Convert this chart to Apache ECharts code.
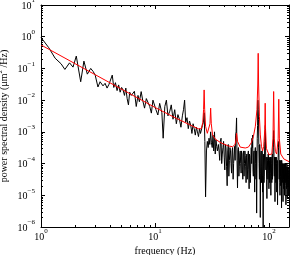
<!DOCTYPE html>
<html>
<head>
<meta charset="utf-8">
<script src="https://cdn.jsdelivr.net/npm/echarts@6/dist/echarts.min.js"></script>
<style>
html,body{margin:0;padding:0;background:#fff;}
#chart{width:299px;height:255px;}
</style>
</head>
<body>
<div id="chart"></div>
<script>
const freqA = [1.0,1.17,1.33,1.5,1.62,1.78,1.91,2.04,2.23,2.38,2.55,2.73,2.87,2.99,3.16,3.3];
const psdA  = [0.95,0.45,0.21,0.14,0.093,0.15,0.11,0.245,0.038,0.17,0.066,0.10,0.08,0.061,0.026,0.038];

const freqB = [3.5,3.65,3.8,3.95,4.1,4.22,4.35,4.5,4.65,4.8,4.95,5.1,5.25,5.4,5.55,5.7,5.85,6.0,6.2,6.4,6.6,6.85,7.1,7.3,7.57,7.8,8.1,8.4,8.7,9.0,9.3,9.6,9.9,10.2,10.6];
const psdB  = [0.0282,0.0339,0.024,0.0316,0.0282,0.0617,0.0251,0.0355,0.02,0.0302,0.0178,0.0251,0.0209,0.0141,0.024,0.0112,0.0071,0.0178,0.0141,0.0126,0.019,0.0063,0.0141,0.0089,0.0186,0.01,0.0056,0.0112,0.0117,0.0063,0.0039,0.01,0.0105,0.005,0.0034];

const freqC = [11.0,11.5,11.8,12.2,12.6,13.0,13.5,13.9,14.4,14.9,15.4,15.9,16.4,16.9,17.4,17.8,18.2,18.6,19.1,19.6,20.1,20.6,21.1,21.6,22.1,22.6,23.1,23.6,24.1,24.6,25.1,25.6,26.1,26.6,27.0,27.4,27.8,28.3,28.8,29.3,29.8,30.3,30.8,31.3,31.8,32.3,32.8,33.3,33.8,34.3,34.8,35.3];
const psdC  = [0.0079,0.004,0.00063,0.0063,0.01,0.0032,0.0045,0.0071,0.0025,0.005,0.0018,0.0035,0.0025,0.0014,0.0032,0.005,0.01,0.002,0.0028,0.00126,0.0022,0.0016,0.00089,0.0018,0.00126,0.00079,0.0014,0.001,0.00071,0.00126,0.00089,0.001,0.0016,0.002,0.004,0.0005,0.0000089,0.00025,0.0005,0.00032,0.00063,0.0004,0.001,0.00045,0.00032,0.00079,0.00025,0.001,0.0002,0.00056,0.00035,0.00025];

const freqD = [36,37,38,39,40,41,42,43,44,45,46,47,48,49,50,51,52,53,54,55,56,57,58,59,60,61,62,63,64,65,66,67,68,69,70,71,72,73,74,75,76,77,78,79,80,81,82,83,84,85,86,87,88,89,90,91,92,93,94,95,96,97,98,99,100,101,102,103,104,105,106,107,108,109,110,111,112,113,114,115,116,117,118,119,120,121,122,123,124,125,126,127,128,129,130,131,132,133,134,135,136,137,138,139,140,141,142,143,144,145,146,147,148,149,150];
const psdD  = [4.0e-4,1.26e-4,6.3e-4,2.0e-4,5.0e-4,6.3e-5,3.2e-4,2.0e-5,4.0e-4,1.26e-4,2.5e-4,5.0e-5,3.2e-4,1.0e-4,3.5e-4,7.9e-4,2.75e-3,1.7e-5,3.2e-4,7.9e-5,
               2.5e-4,5.0e-5,2.0e-4,3.2e-5,2.5e-4,1.0e-4,1.8e-4,2.5e-5,2.0e-4,6.3e-5,2.5e-4,1.6e-5,1.6e-4,5.0e-5,3.2e-4,6.3e-4,7.9e-4,4.0e-5,2.5e-4,1.26e-5,
               3.2e-4,3.2e-5,2.75e-6,6.3e-4,1.0e-2,2.5e-3,1.0e-4,4.0e-4,2.0e-6,2.0e-4,2.5e-5,2.5e-4,1.26e-5,1.0e-6,2.0e-4,4.0e-5,5.0e-4,1.6e-3,6.3e-5,1.6e-4,
               7.9e-6,1.26e-4,3.2e-5,1.6e-4,1.6e-5,1.26e-4,4.0e-5,1.6e-4,1.0e-5,1.0e-4,2.5e-5,2.0e-4,5.0e-5,4.0e-4,1.1e-3,7.9e-5,1.6e-4,6.3e-6,1.0e-4,2.5e-5,
               1.6e-4,1.26e-5,1.0e-4,5.0e-6,1.26e-4,2.5e-4,5.0e-4,3.2e-5,1.26e-4,1.0e-5,1.0e-4,2.0e-5,1.26e-4,4.0e-6,7.9e-5,2.5e-5,1.0e-4,6.3e-6,7.9e-5,1.6e-5,
               1.0e-4,1.0e-5,6.3e-5,2.5e-5,1.0e-4,5.0e-6,6.3e-5,1.6e-5,7.9e-5,7.9e-6,6.3e-5,2.0e-5,7.9e-5,1.0e-5,6.3e-5];

// half-step samples between the integer ones above (36.5 ... 149.5)
const freqE = [36.5,37.5,38.5,39.5,40.5,41.5,42.5,43.5,44.5,45.5,46.5,47.5,48.5,49.5,50.5,51.5,52.5,53.5,54.5,55.5,56.5,57.5,58.5,59.5,60.5,61.5,62.5,63.5,64.5,65.5,66.5,67.5,68.5,69.5,70.5,71.5,72.5,73.5,74.5,75.5,76.5,77.5,78.5,79.5,80.5,81.5,82.5,83.5,84.5,85.5,86.5,87.5,88.5,89.5,90.5,91.5,92.5,93.5,94.5,95.5,96.5,97.5,98.5,99.5,100.5,101.5,102.5,103.5,104.5,105.5,106.5,107.5,108.5,109.5,110.5,111.5,112.5,113.5,114.5,115.5,116.5,117.5,118.5,119.5,120.5,121.5,122.5,123.5,124.5,125.5,126.5,127.5,128.5,129.5,130.5,131.5,132.5,133.5,134.5,135.5,136.5,137.5,138.5,139.5,140.5,141.5,142.5,143.5,144.5,145.5,146.5,147.5,148.5,149.5];
const psdE  = [2.5e-4,5.0e-4,1.0e-4,3.2e-4,1.6e-4,4.0e-4,7.9e-5,2.5e-4,4.0e-5,3.2e-4,1.0e-4,2.5e-4,3.2e-5,2.0e-4,1.26e-4,1.0e-3,1.26e-4,2.5e-4,4.0e-5,2.0e-4,
               1.0e-4,2.5e-4,6.3e-5,2.0e-4,4.0e-5,2.5e-4,7.9e-5,1.6e-4,3.2e-5,2.0e-4,6.3e-5,2.0e-4,2.5e-5,1.6e-4,1.0e-4,3.2e-4,6.3e-5,2.0e-4,5.0e-5,2.5e-4,
               1.0e-4,2.5e-4,6.3e-5,1.6e-3,5.0e-3,4.0e-4,3.2e-5,1.6e-4,5.0e-5,2.5e-4,7.9e-5,2.0e-4,4.0e-5,1.6e-4,2.5e-5,2.0e-4,7.9e-4,2.5e-4,1.6e-4,3.2e-5,
               1.6e-4,6.3e-5,2.0e-4,5.0e-5,1.6e-4,2.5e-5,1.26e-4,5.0e-5,1.6e-4,4.0e-5,1.26e-4,3.2e-5,2.5e-4,6.3e-4,3.2e-4,4.0e-5,1.26e-4,5.0e-5,1.6e-4,5.0e-5,
               1.0e-4,4.0e-5,1.26e-4,3.2e-5,1.6e-4,3.2e-4,1.6e-4,1.0e-4,2.5e-5,1.26e-4,4.0e-5,1.0e-4,3.2e-5,1.26e-4,4.0e-5,1.0e-4,2.5e-5,1.0e-4,3.2e-5,7.9e-5,
               2.5e-5,1.0e-4,3.2e-5,7.9e-5,2.0e-5,7.9e-5,2.5e-5,1.0e-4,3.2e-5,7.9e-5,2.5e-5,7.9e-5,3.2e-5,6.3e-5];

// ---- fitted model (red) ----
const fitFreq  = [1,2,5,10,15,20,24,25.5,26.3,26.7,27.0,27.3,27.8,28.8,29.8,30.4,30.8,31.2,32,34,38,44,48,50.5,51.5,52.0,53.0,56,62,66,70,73,76,78.5,79.8,80.5,81.2,82.5,84,86,88,90,92,92.7,93.4,95,100,106,108.5,110,111.5,114,117,120.5,122,123.5,127,135,150];
const fitValue = [0.55,0.14,0.023,0.0059,0.0028,0.0017,0.00125,0.00125,0.002,0.005,0.021,0.005,0.0015,0.0009,0.0009,0.0018,0.0056,0.0018,0.0008,0.00058,0.00045,0.00036,0.00034,0.0004,0.0006,0.0009,0.0005,0.00033,0.00031,0.00033,0.00045,0.0007,0.0015,0.005,0.03,0.30,0.03,0.003,0.0008,0.00035,0.00025,0.00035,0.0012,0.008,0.0012,0.0003,0.00019,0.0002,0.0006,0.0187,0.0006,0.00024,0.0002,0.0006,0.0107,0.0006,0.0002,0.00014,0.000115];

// ---- axis ticks ----
const xMin = 1, xMax = 150;
const yMin = 1e-6, yMax = 10;
const minorMantissa = [2,3,4,5,6,7,8,9];
const xDecades = [1,10,100];
const yDecades = [1e-6,1e-5,1e-4,1e-3,1e-2,1e-1,1];

const FONT = 'Liberation Serif';

const psdFreq = freqA.concat(freqB, freqC, freqD, freqE);
const psdVal = psdA.concat(psdB, psdC, psdD, psdE);
const psdData = psdFreq.map((f,i)=>[f, psdVal[i]]).sort((a,b)=>a[0]-b[0]);
const fitData = fitFreq.map((f,i)=>[f, fitValue[i]]);

const xMinor = [];
xDecades.forEach(d=>minorMantissa.forEach(m=>{const v=d*m; if(v<xMax) xMinor.push([v, 1]);}));
const yMinor = [];
yDecades.forEach(d=>minorMantissa.forEach(m=>{yMinor.push([2, d*m]);}));

function fmt(v){
  const l = Math.log10(v);
  const e = Math.round(l);
  if (Math.abs(l-e) > 1e-6) return '';
  const s = e < 0 ? '\u2212' + (-e) : String(e);
  return '{b|10}{e|' + s + '}';
}
const rich = {
  b: {fontFamily: FONT, fontSize: 10, color: '#000', lineHeight: 12, verticalAlign: 'bottom'},
  e: {fontFamily: FONT, fontSize: 7, color: '#000', lineHeight: 8, padding: [0,0,7,0], verticalAlign: 'bottom'}
};

function axisBase(){
  return {
    type: 'log', logBase: 10,
    axisLine: {show: true, onZero: false, lineStyle: {color: '#000', width: 1}},
    axisTick: {show: true, inside: true, length: 4, lineStyle: {color: '#000', width: 1}},
    splitLine: {show: false},
    minorTick: {show: false},
    minorSplitLine: {show: false}
  };
}

const chart = echarts.init(document.getElementById('chart'), null, {renderer: 'canvas'});

function minorRenderX(params, api){
  const cs = params.coordSys;
  const p = api.coord([api.value(0), 1]);
  const x = Math.round(p[0]) + 0.5;
  const yb = cs.y + cs.height, yt = cs.y;
  return {type: 'group', children: [
    {type: 'line', shape: {x1: x, y1: yb, x2: x, y2: yb - 2}, style: {stroke: '#000', lineWidth: 1}},
    {type: 'line', shape: {x1: x, y1: yt, x2: x, y2: yt + 2}, style: {stroke: '#000', lineWidth: 1}}
  ]};
}
function minorRenderY(params, api){
  const cs = params.coordSys;
  const p = api.coord([2, api.value(1)]);
  const y = Math.round(p[1]) + 0.5;
  const xl = cs.x, xr = cs.x + cs.width;
  return {type: 'group', children: [
    {type: 'line', shape: {x1: xl, y1: y, x2: xl + 2, y2: y}, style: {stroke: '#000', lineWidth: 1}},
    {type: 'line', shape: {x1: xr, y1: y, x2: xr - 2, y2: y}, style: {stroke: '#000', lineWidth: 1}}
  ]};
}

chart.setOption({
  animation: false,
  backgroundColor: '#fff',
  grid: {left: 41, top: 5, right: 10, bottom: 28, containLabel: false, outerBoundsMode: 'none'},
  xAxis: [
    Object.assign(axisBase(), {
      position: 'bottom', min: xMin, max: xMax,
      axisLabel: {show: true, margin: 3, formatter: fmt, rich: rich, showMaxLabel: false, hideOverlap: false},
      name: 'frequency (Hz)', nameLocation: 'middle', nameGap: 19, nameMoveOverlap: false,
      nameTextStyle: {fontFamily: FONT, fontSize: 10, color: '#000'}
    }),
    Object.assign(axisBase(), {
      position: 'top', min: xMin, max: xMax, axisLabel: {show: false}
    })
  ],
  yAxis: [
    Object.assign(axisBase(), {
      position: 'left', min: yMin, max: yMax,
      axisLabel: {show: true, margin: 6, formatter: fmt, rich: rich, hideOverlap: false},
      name: 'power spectral density (\u03bcm{s|2} /Hz)', nameLocation: 'middle', nameGap: 31, nameMoveOverlap: false,
      nameTextStyle: {fontFamily: FONT, fontSize: 10, color: '#000', lineHeight: 12, verticalAlign: 'bottom',
        rich: {s: {fontFamily: FONT, fontSize: 7, color: '#000', lineHeight: 8, padding: [0,0,6,0], verticalAlign: 'bottom'}}}
    }),
    Object.assign(axisBase(), {
      position: 'right', min: yMin, max: yMax, axisLabel: {show: false}
    })
  ],
  series: [
    {
      type: 'line', name: 'psd', data: psdData, xAxisIndex: 0, yAxisIndex: 0,
      showSymbol: false, symbol: 'none', sampling: null,
      lineStyle: {color: '#000', width: 1}, z: 2, clip: true
    },
    {
      type: 'line', name: 'fit', data: fitData, xAxisIndex: 0, yAxisIndex: 0,
      showSymbol: false, symbol: 'none',
      lineStyle: {color: '#ff0000', width: 1}, z: 3, clip: true
    },
    {
      type: 'custom', data: xMinor, xAxisIndex: 0, yAxisIndex: 0,
      renderItem: minorRenderX, silent: true, z: 5, clip: false
    },
    {
      type: 'custom', data: yMinor, xAxisIndex: 0, yAxisIndex: 0,
      renderItem: minorRenderY, silent: true, z: 5, clip: false
    }
  ]
});
</script>
</body>
</html>
